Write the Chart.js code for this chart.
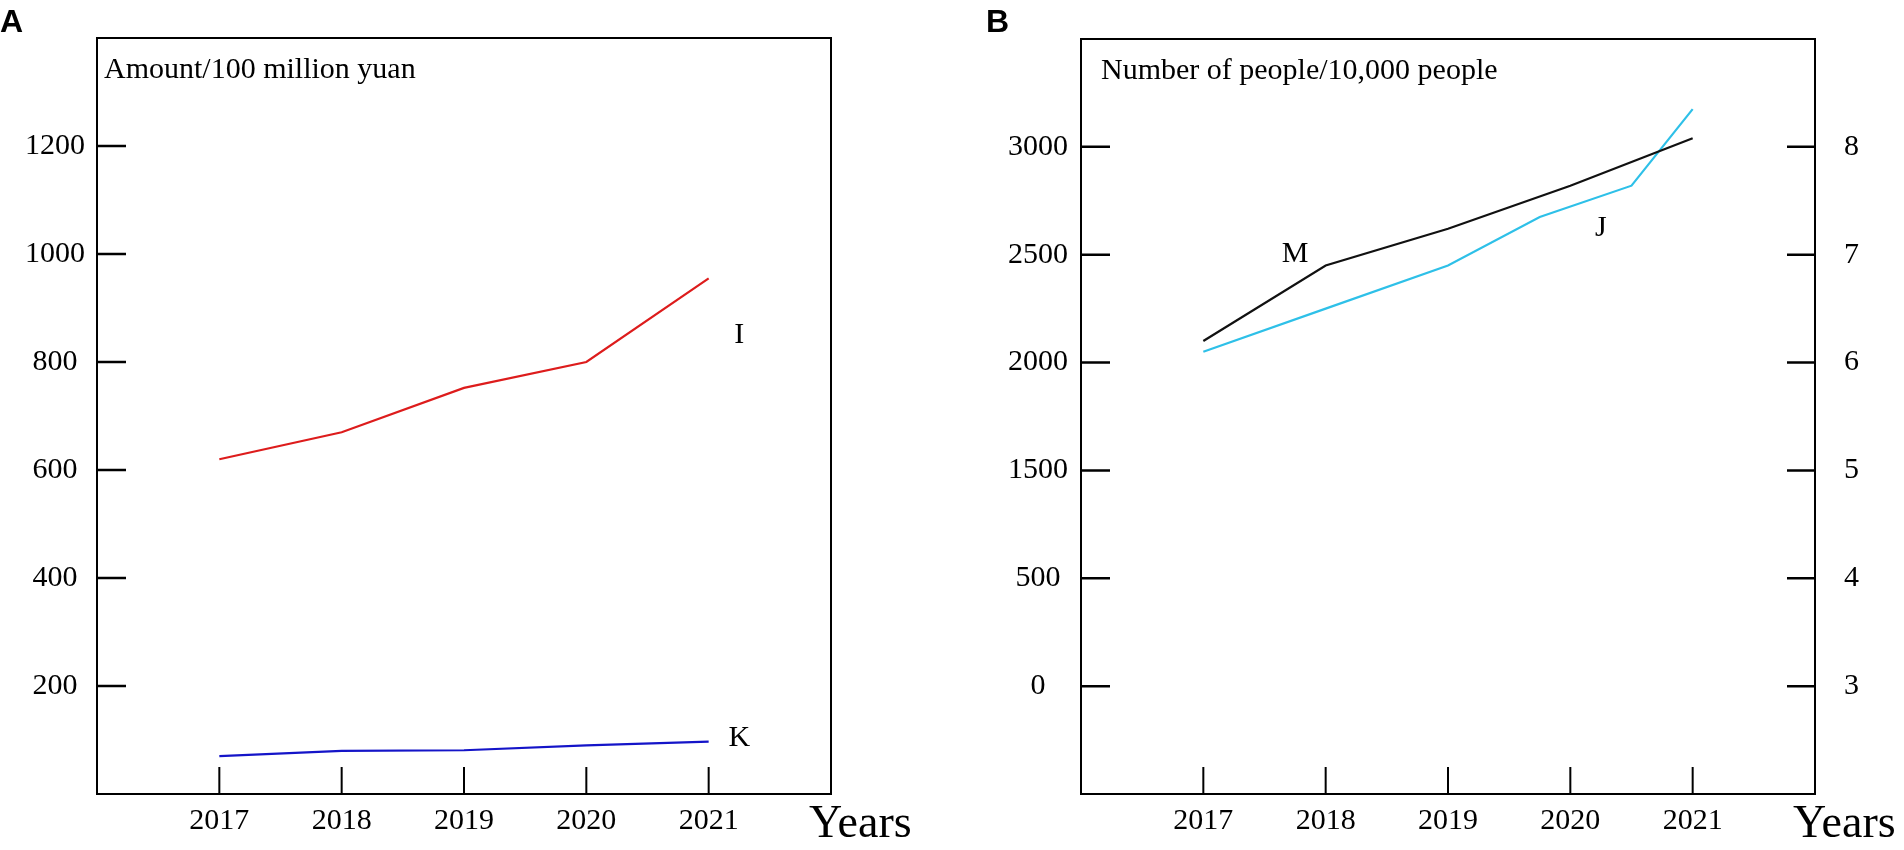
<!DOCTYPE html>
<html>
<head>
<meta charset="utf-8">
<script src="https://cdn.jsdelivr.net/npm/chart.js@4.4.1/dist/chart.umd.min.js"></script>
<style>
  html, body { margin: 0; padding: 0; background: #fff; }
  .panel { position: absolute; top: 0; width: 952px; height: 850px; }
  #panelA { left: 0; }
  #panelB { left: 952px; }
</style>
</head>
<body>
<div class="panel" id="panelA"><canvas id="chartA"></canvas></div>
<div class="panel" id="panelB"><canvas id="chartB"></canvas></div>
<script>
// Data
const years = [2017, 2018, 2019, 2020, 2021];
const amountI = [620, 670, 752, 800, 955];
const amountK = [70, 80, 81, 90, 97];
const peopleM = [2100, 2450, 2620, 2820, 3040];
const jYears = [2017, 2018, 2019, 2019.75, 2020.5, 2021];
const jValues = [6.1, 6.5, 6.9, 7.35, 7.64, 8.35];

const amountTicks = [200, 400, 600, 800, 1000, 1200];
const peopleTickValues = [500, 1000, 1500, 2000, 2500, 3000];
const peopleTickLabels = ['0', '500', '1500', '2000', '2500', '3000'];
const rightTicks = [3, 4, 5, 6, 7, 8];

const SERIF = '"Liberation Serif", "DejaVu Serif", serif';
Chart.defaults.font.family = SERIF;
Chart.defaults.color = '#000';

// Box, inner tick marks and text labels
const framePlugin = {
    id: 'frame',
    afterDraw(chart, args, opts) {
        const { ctx, chartArea: a, scales } = chart;
        ctx.save();
        ctx.strokeStyle = '#000';
        ctx.lineWidth = 2;
        ctx.strokeRect(a.left, a.top, a.right - a.left, a.bottom - a.top);

        ctx.lineWidth = 2.5;
        ctx.beginPath();
        scales.y.ticks.forEach(t => {
            const py = scales.y.getPixelForValue(t.value);
            ctx.moveTo(a.left, py);
            ctx.lineTo(a.left + 29, py);
        });
        if (scales.y2) {
            scales.y2.ticks.forEach(t => {
                const py = scales.y2.getPixelForValue(t.value);
                ctx.moveTo(a.right, py);
                ctx.lineTo(a.right - 28, py);
            });
        }
        ctx.stroke();

        ctx.lineWidth = 2;
        ctx.beginPath();
        scales.x.ticks.forEach(t => {
            const px = scales.x.getPixelForValue(t.value);
            ctx.moveTo(px, a.bottom);
            ctx.lineTo(px, a.bottom - 27);
        });
        ctx.stroke();

        ctx.fillStyle = '#000';
        ctx.font = '30px ' + SERIF;
        ctx.textAlign = 'left';
        ctx.textBaseline = 'alphabetic';
        ctx.fillText(opts.title, a.left + opts.titleDx, a.top + 40);

        ctx.textAlign = 'center';
        ctx.textBaseline = 'middle';
        opts.labels.forEach(l => {
            const s = scales[l.axis || 'y'];
            ctx.fillText(l.text, scales.x.getPixelForValue(l.x), s.getPixelForValue(l.y));
        });

        ctx.textAlign = 'left';
        ctx.textBaseline = 'alphabetic';
        ctx.font = '46px ' + SERIF;
        ctx.fillText('Years', a.right - 22, 837);

        ctx.font = 'bold 32px "Liberation Sans", Arial, sans-serif';
        ctx.fillText(opts.panel, opts.panelX, 32);
        ctx.restore();
    }
};

function fixWidth(w) {
    return s => {
        s.width = w;
        s.paddingTop = 0;
        s.paddingBottom = 0;
    };
}

function xScale() {
    return {
        type: 'linear',
        min: 2016,
        max: 2022,
        afterBuildTicks: s => { s.ticks = years.map(v => ({ value: v })); },
        afterFit: s => { s.height = 56; },
        grid: { display: false, drawTicks: false },
        border: { display: false },
        ticks: { font: { size: 30 }, padding: 9, maxRotation: 0, callback: v => String(v) }
    };
}

new Chart(document.getElementById('chartA'), {
    type: 'line',
    data: {
        labels: years,
        datasets: [
            { label: 'I', data: years.map((x, i) => ({ x, y: amountI[i] })), borderColor: '#dd1c1c', borderWidth: 2.2 },
            { label: 'K', data: years.map((x, i) => ({ x, y: amountK[i] })), borderColor: '#1414c8', borderWidth: 2.2 }
        ]
    },
    options: {
        responsive: true,
        maintainAspectRatio: false,
        animation: false,
        layout: { padding: { top: 38, right: 121, bottom: 0, left: 0 } },
        elements: { point: { radius: 0 }, line: { tension: 0 } },
        plugins: {
            legend: { display: false },
            tooltip: { enabled: false },
            frame: {
                title: 'Amount/100 million yuan',
                titleDx: 7,
                panel: 'A',
                panelX: 0,
                labels: [
                    { text: 'I', x: 2021.25, y: 850 },
                    { text: 'K', x: 2021.25, y: 104 }
                ]
            }
        },
        scales: {
            x: xScale(),
            y: {
                type: 'linear',
                min: 0,
                max: 1400,
                afterBuildTicks: s => { s.ticks = amountTicks.map(v => ({ value: v })); },
                afterFit: fixWidth(97),
                grid: { display: false, drawTicks: false },
                border: { display: false },
                ticks: { font: { size: 30 }, padding: 12, crossAlign: 'center', callback: v => String(v) }
            }
        }
    },
    plugins: [framePlugin]
});

new Chart(document.getElementById('chartB'), {
    type: 'line',
    data: {
        datasets: [
            { label: 'M', data: years.map((x, i) => ({ x, y: peopleM[i] })), borderColor: '#111111', borderWidth: 2.2, yAxisID: 'y' },
            { label: 'J', data: jYears.map((x, i) => ({ x, y: jValues[i] })), borderColor: '#2ec0e8', borderWidth: 2.2, yAxisID: 'y2' }
        ]
    },
    options: {
        responsive: true,
        maintainAspectRatio: false,
        animation: false,
        layout: { padding: { top: 39, right: 0, bottom: 0, left: 0 } },
        elements: { point: { radius: 0 }, line: { tension: 0 } },
        plugins: {
            legend: { display: false },
            tooltip: { enabled: false },
            frame: {
                title: 'Number of people/10,000 people',
                titleDx: 20,
                panel: 'B',
                panelX: 34,
                labels: [
                    { text: 'M', x: 2017.75, y: 2505 },
                    { text: 'J', x: 2020.25, y: 2625 }
                ]
            }
        },
        scales: {
            x: xScale(),
            y: {
                type: 'linear',
                position: 'left',
                min: 0,
                max: 3500,
                afterBuildTicks: s => { s.ticks = peopleTickValues.map(v => ({ value: v })); },
                afterFit: fixWidth(129),
                grid: { display: false, drawTicks: false },
                border: { display: false },
                ticks: {
                    font: { size: 30 }, padding: 13, crossAlign: 'center',
                    callback: v => peopleTickLabels[peopleTickValues.indexOf(v)]
                }
            },
            y2: {
                type: 'linear',
                position: 'right',
                min: 2,
                max: 9,
                afterBuildTicks: s => { s.ticks = rightTicks.map(v => ({ value: v })); },
                afterFit: fixWidth(89),
                grid: { display: false, drawTicks: false },
                border: { display: false },
                ticks: { font: { size: 30 }, padding: 29, crossAlign: 'near', callback: v => String(v) }
            }
        }
    },
    plugins: [framePlugin]
});
</script>
</body>
</html>
